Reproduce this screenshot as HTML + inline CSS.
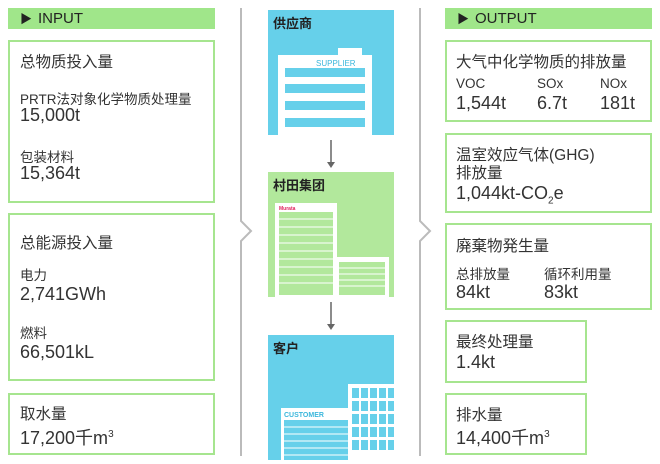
<!DOCTYPE html>
<html><head><meta charset="utf-8"><style>
*{margin:0;padding:0;box-sizing:border-box}
body{width:660px;height:464px;background:#fff;position:relative;overflow:hidden;font-family:"Liberation Sans","Noto Sans CJK SC",sans-serif;color:#333}
.a{position:absolute}
.hd{position:absolute;background:#a0e68a;height:21px;font-size:15px;line-height:21px;padding-left:12px;color:#222}
.hd span{font-size:12px;margin-right:6px}
.bx{position:absolute;border:2px solid #a6e58f;background:#fff}
.t{position:absolute;font-size:15.5px;white-space:nowrap}
.s{position:absolute;font-size:13.5px;white-space:nowrap}
.v{position:absolute;font-size:18px;white-space:nowrap}
</style></head><body>
<div class="hd" style="left:8px;top:8px;width:207px"><span>▶</span>INPUT</div>
<div class="bx" style="left:8px;top:40px;width:207px;height:163px"></div>
<div class="t" style="left:20px;top:50px">总物质投入量</div>
<div class="s" style="left:20px;top:88px">PRTR法对象化学物质处理量</div>
<div class="v" style="left:20px;top:105px">15,000t</div>
<div class="s" style="left:20px;top:146px">包装材料</div>
<div class="v" style="left:20px;top:163px">15,364t</div>
<div class="bx" style="left:8px;top:213px;width:207px;height:168px"></div>
<div class="t" style="left:20px;top:231px">总能源投入量</div>
<div class="s" style="left:20px;top:264px">电力</div>
<div class="v" style="left:20px;top:284px">2,741GWh</div>
<div class="s" style="left:20px;top:322px">燃料</div>
<div class="v" style="left:20px;top:342px">66,501kL</div>
<div class="bx" style="left:8px;top:393px;width:207px;height:62px"></div>
<div class="t" style="left:20px;top:402px">取水量</div>
<div class="v" style="left:20px;top:424px">17,200千m<sup style="font-size:10px">3</sup></div>

<svg class="a" style="left:0;top:0" width="660" height="464">
<polyline points="241,8 241,221 251,231 241,241 241,456" fill="none" stroke="#bbb" stroke-width="2"/>
<polyline points="420,8 420,221 430,231 420,241 420,456" fill="none" stroke="#bbb" stroke-width="2"/>
<rect x="268" y="10" width="126" height="125" fill="#66d0ea"/>
<rect x="278" y="55" width="94" height="80" fill="#fff"/>
<rect x="338" y="48" width="24" height="8" fill="#fff"/>
<text x="316" y="66" font-size="8" fill="#3bb7dc" font-family="Liberation Sans">SUPPLIER</text>
<g fill="#66d0ea"><rect x="285" y="68" width="80" height="9"/><rect x="285" y="84" width="80" height="9"/><rect x="285" y="101" width="80" height="9"/><rect x="285" y="118" width="80" height="9"/></g>
<line x1="331" y1="140" x2="331" y2="162" stroke="#666" stroke-width="1.5"/><polygon points="327,162 335,162 331,168" fill="#666"/>
<rect x="268" y="172" width="126" height="125" fill="#b2e89c"/>
<rect x="275" y="203" width="62" height="94" fill="#fff"/>
<rect x="335" y="257" width="54" height="40" fill="#fff"/>
<g fill="#b2e89c"><rect x="279" y="212" width="54" height="83"/><rect x="339" y="262" width="46" height="33"/></g>
<g stroke="#fff" stroke-width="1"><path d="M279 219H333M279 227H333M279 235H333M279 243H333M279 251H333M279 259H333M279 267H333M279 275H333M279 283H333M339 268H385M339 274H385M339 280H385M339 286H385"/></g>
<text x="279" y="210" font-size="5" fill="#e0245e" font-weight="bold" font-family="Liberation Sans">Murata</text>
<line x1="331" y1="302" x2="331" y2="324" stroke="#666" stroke-width="1.5"/><polygon points="327,324 335,324 331,330" fill="#666"/>
<rect x="268" y="335" width="126" height="125" fill="#66d0ea"/>
<rect x="281" y="408" width="70" height="52" fill="#fff"/>
<rect x="348" y="384" width="46" height="76" fill="#fff"/>
<g fill="#66d0ea"><rect x="284" y="420" width="64" height="40"/></g>
<g stroke="#fff" stroke-width="1"><path d="M284 427H348M284 434H348M284 441H348M284 448H348M284 455H348"/></g>
<g fill="#66d0ea"><rect x="352" y="388" width="7" height="10"/><rect x="361" y="388" width="7" height="10"/><rect x="370" y="388" width="7" height="10"/><rect x="379" y="388" width="7" height="10"/><rect x="388" y="388" width="6" height="10"/>
<rect x="352" y="401" width="7" height="10"/><rect x="361" y="401" width="7" height="10"/><rect x="370" y="401" width="7" height="10"/><rect x="379" y="401" width="7" height="10"/><rect x="388" y="401" width="6" height="10"/>
<rect x="352" y="414" width="7" height="10"/><rect x="361" y="414" width="7" height="10"/><rect x="370" y="414" width="7" height="10"/><rect x="379" y="414" width="7" height="10"/><rect x="388" y="414" width="6" height="10"/>
<rect x="352" y="427" width="7" height="10"/><rect x="361" y="427" width="7" height="10"/><rect x="370" y="427" width="7" height="10"/><rect x="379" y="427" width="7" height="10"/><rect x="388" y="427" width="6" height="10"/>
<rect x="352" y="440" width="7" height="10"/><rect x="361" y="440" width="7" height="10"/><rect x="370" y="440" width="7" height="10"/><rect x="379" y="440" width="7" height="10"/><rect x="388" y="440" width="6" height="10"/></g>
<text x="284" y="417" font-size="7" fill="#3bb7dc" font-weight="bold" font-family="Liberation Sans">CUSTOMER</text>
</svg>
<div class="a" style="left:273px;top:13px;font-size:13px;font-weight:bold;color:#222">供应商</div>
<div class="a" style="left:273px;top:175px;font-size:13px;font-weight:bold;color:#222">村田集团</div>
<div class="a" style="left:273px;top:338px;font-size:13px;font-weight:bold;color:#222">客户</div>

<div class="hd" style="left:445px;top:8px;width:207px"><span>▶</span>OUTPUT</div>
<div class="bx" style="left:445px;top:40px;width:207px;height:82px"></div>
<div class="t" style="left:456px;top:50px">大气中化学物质的排放量</div>
<div class="s" style="left:456px;top:76px">VOC</div><div class="s" style="left:537px;top:76px">SOx</div><div class="s" style="left:600px;top:76px">NOx</div>
<div class="v" style="left:456px;top:93px">1,544t</div><div class="v" style="left:537px;top:93px">6.7t</div><div class="v" style="left:600px;top:93px">181t</div>
<div class="bx" style="left:445px;top:133px;width:207px;height:80px"></div>
<div class="t" style="left:456px;top:143px">温室效应气体(GHG)</div>
<div class="t" style="left:456px;top:161px">排放量</div>
<div class="v" style="left:456px;top:183px">1,044kt-CO<sub style="font-size:10px">2</sub>e</div>
<div class="bx" style="left:445px;top:223px;width:207px;height:87px"></div>
<div class="t" style="left:456px;top:234px">廃棄物発生量</div>
<div class="s" style="left:456px;top:263px">总排放量</div><div class="s" style="left:544px;top:263px">循环利用量</div>
<div class="v" style="left:456px;top:282px">84kt</div><div class="v" style="left:544px;top:282px">83kt</div>
<div class="bx" style="left:445px;top:320px;width:142px;height:63px"></div>
<div class="t" style="left:456px;top:330px">最终处理量</div>
<div class="v" style="left:456px;top:352px">1.4kt</div>
<div class="bx" style="left:445px;top:393px;width:142px;height:62px"></div>
<div class="t" style="left:456px;top:403px">排水量</div>
<div class="v" style="left:456px;top:424px">14,400千m<sup style="font-size:10px">3</sup></div>
</body></html>
